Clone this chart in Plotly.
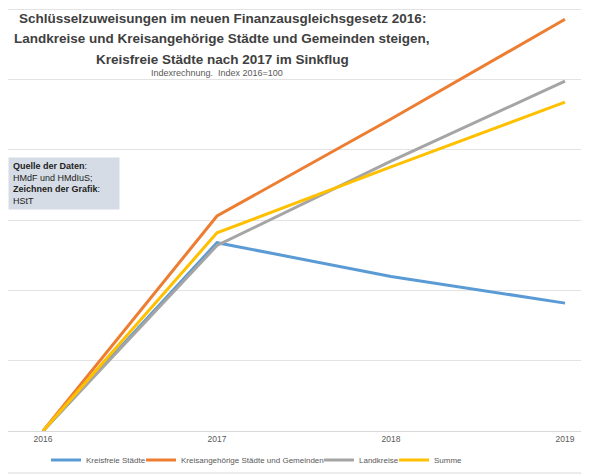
import plotly.graph_objects as go

# --- Daten (Index 2016=100) ---
jahre = ["2016", "2017", "2018", "2019"]
kreisfreie_staedte = [100, 113.4, 111.0, 109.1]
kreisangehoerige = [100, 115.3, 122.2, 129.3]
landkreise = [100, 113.2, 119.2, 124.9]
summe = [100, 114.1, 118.8, 123.4]

serien = [
    ("Kreisfreie Städte", kreisfreie_staedte, "#5B9BD5"),
    ("Kreisangehörige Städte und Gemeinden", kreisangehoerige, "#ED7D31"),
    ("Landkreise", landkreise, "#A5A5A5"),
    ("Summe", summe, "#FFC000"),
]

titel_zeilen = [
    "Schlüsselzuweisungen im neuen Finanzausgleichsgesetz 2016:",
    "Landkreise und Kreisangehörige Städte und Gemeinden steigen,",
    "Kreisfreie Städte nach 2017 im Sinkflug",
]
untertitel = "Indexrechnung.  Index 2016=100"
quelle = ("<b>Quelle der Daten</b>:<br>HMdF und HMdIuS;<br>"
          "<b>Zeichnen der Grafik</b>:<br>HStT")

FONT = "Liberation Sans, Arial, sans-serif"
GRAU = "#595959"
OFF = 8                       # Seitenrand des Browsers (body margin)
W, H = 589 - OFF, 475 - OFF
TOP, BOTTOM = 0, 431 - OFF    # Plotbereich in Pixeln
PH = BOTTOM - TOP


def px_(x):
    """Pixel im Bild -> Paper-x"""
    return (x - OFF) / W


def py(y):
    """Pixel im Bild -> Paper-y"""
    return (BOTTOM - (y - OFF)) / PH


# Legendenpositionen (Anfang des Legendeneintrags in Bildpixeln)
legenden_x = [46, 141, 319, 394]

fig = go.Figure()
for i, (name, werte, farbe) in enumerate(serien):
    fig.add_trace(go.Scatter(
        x=jahre, y=werte, name=name, mode="lines",
        line=dict(color=farbe, width=3),
        legend="legend" if i == 0 else f"legend{i + 1}",
    ))

legend_style = dict(
    orientation="h", xanchor="left", y=py(460), yanchor="middle",
    font=dict(size=8, color=GRAU), bgcolor="rgba(0,0,0,0)",
)
layout_legenden = {}
for i, lx in enumerate(legenden_x):
    key = "legend" if i == 0 else f"legend{i + 1}"
    layout_legenden[key] = dict(legend_style, x=px_(lx))

fig.update_layout(
    width=W, height=H,
    margin=dict(l=0, r=0, t=TOP, b=H - BOTTOM, autoexpand=False),
    paper_bgcolor="white", plot_bgcolor="white",
    font=dict(family=FONT, size=9, color=GRAU),
    showlegend=True,
    xaxis=dict(
        type="category", range=[-35 / 174, 3 + 24 / 174],
        showgrid=False, showline=True, linecolor="#D9D9D9", linewidth=1,
        ticks="", tickfont=dict(size=8.5, color=GRAU),
    ),
    yaxis=dict(
        range=[100, 130.1], dtick=5, showgrid=True, gridcolor="#E3E3E3",
        gridwidth=1, zeroline=False, showticklabels=False,
    ),
    **layout_legenden,
)

for zeile, yy in zip(titel_zeilen, [18, 39, 60]):
    fig.add_annotation(
        text=f"<b>{zeile}</b>", xref="paper", yref="paper", x=px_(222), y=py(yy),
        xanchor="center", yanchor="middle", showarrow=False,
        font=dict(family=FONT, size=13.5, color="#404040"),
    )
fig.add_annotation(
    text=untertitel, xref="paper", yref="paper", x=px_(217), y=py(73.5),
    xanchor="center", yanchor="middle", showarrow=False,
    font=dict(family=FONT, size=9, color=GRAU),
)
fig.add_annotation(
    text=quelle, xref="paper", yref="paper", x=px_(8), y=py(157),
    xanchor="left", yanchor="top", showarrow=False, align="left",
    width=102, height=43, borderpad=4, bgcolor="#D6DCE5",
    font=dict(family=FONT, size=9, color="#222222"),
)

# Rahmenlinie unten
fig.add_shape(type="line", xref="paper", yref="paper", x0=0, x1=1,
              y0=py(473), y1=py(473), line=dict(color="#D9D9D9", width=1))

fig.write_html("out.html")
